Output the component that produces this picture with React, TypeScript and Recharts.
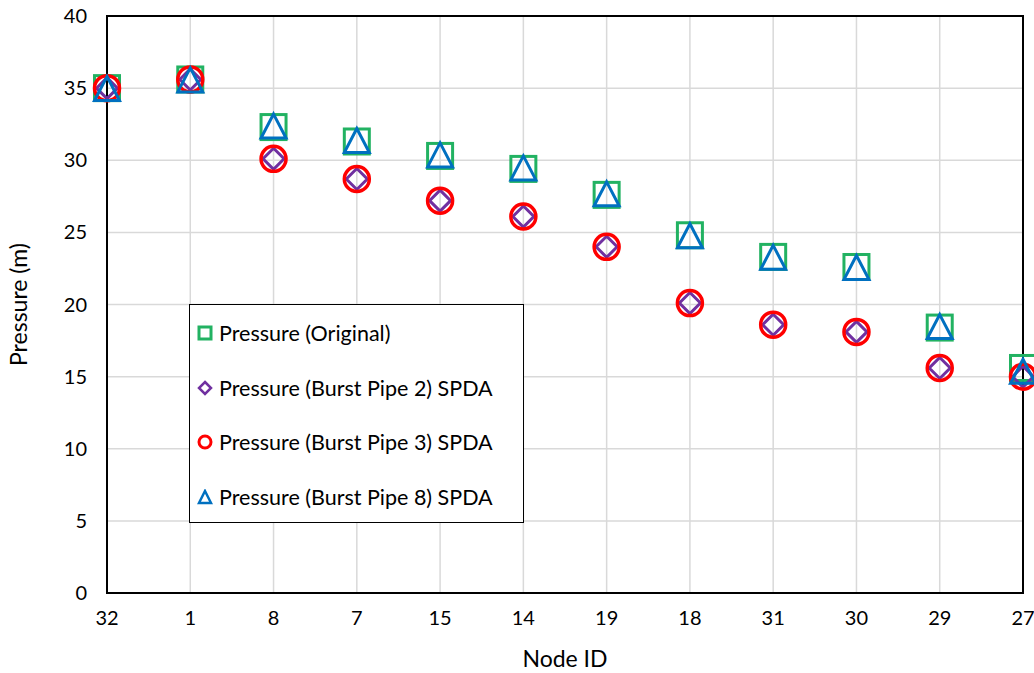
import React from "react";
import {
  ScatterChart,
  Scatter,
  XAxis,
  YAxis,
  CartesianGrid,
  ReferenceArea,
} from "recharts";

const nodeIds = ["32", "1", "8", "7", "15", "14", "19", "18", "31", "30", "29", "27"];
const original = [35.0, 35.6, 32.3, 31.3, 30.3, 29.4, 27.6, 24.8, 23.3, 22.6, 18.4, 15.6];
const burstPipe2 = [35.0, 35.6, 30.1, 28.7, 27.2, 26.1, 24.0, 20.1, 18.6, 18.1, 15.6, 15.0];
const burstPipe3 = [35.0, 35.6, 30.1, 28.7, 27.2, 26.1, 24.0, 20.1, 18.6, 18.1, 15.6, 15.0];
const burstPipe8 = [34.9, 35.5, 32.3, 31.3, 30.3, 29.4, 27.6, 24.7, 23.2, 22.5, 18.4, 15.3];
const yTicks = [0, 5, 10, 15, 20, 25, 30, 35, 40];

const toPoints = (vals: number[]) => vals.map((y, i) => ({ x: i, y }));

const FONT = "Lato, 'Liberation Sans', sans-serif";

const GREEN = "#22b262";
const PURPLE = "#7030a0";
const RED = "#ff0000";
const BLUE = "#0070c0";

const SquareShape = (p: any) => (
  <rect x={p.cx - 12.5} y={p.cy - 12.5} width={25} height={25} fill="none" stroke={GREEN} strokeWidth={3} />
);
const DiamondShape = (p: any) => (
  <path
    d={`M${p.cx},${p.cy - 10.5} L${p.cx + 10.5},${p.cy} L${p.cx},${p.cy + 10.5} L${p.cx - 10.5},${p.cy} Z`}
    fill="none"
    stroke={PURPLE}
    strokeWidth={3}
  />
);
const CircleShape = (p: any) => (
  <circle cx={p.cx} cy={p.cy} r={12.5} fill="none" stroke={RED} strokeWidth={3.5} />
);
const TriangleShape = (p: any) => (
  <path
    d={`M${p.cx},${p.cy - 13} L${p.cx + 12.5},${p.cy + 11} L${p.cx - 12.5},${p.cy + 11} Z`}
    fill="none"
    stroke={BLUE}
    strokeWidth={3}
  />
);

const legendItems = [
  { label: "Pressure (Original)", icon: <rect x={2} y={2} width={12} height={12} fill="none" stroke={GREEN} strokeWidth={3} /> },
  { label: "Pressure (Burst Pipe 2) SPDA", icon: <path d="M8,2 L14,8 L8,14 L2,8 Z" fill="none" stroke={PURPLE} strokeWidth={2.5} /> },
  { label: "Pressure (Burst Pipe 3) SPDA", icon: <circle cx={8} cy={8} r={6} fill="none" stroke={RED} strokeWidth={3} /> },
  { label: "Pressure (Burst Pipe 8) SPDA", icon: <path d="M8,2 L14,14 L2,14 Z" fill="none" stroke={BLUE} strokeWidth={2.5} /> },
];

function LegendBox() {
  return (
    <div
      style={{
        position: "absolute",
        left: 189,
        top: 304,
        width: 335,
        height: 219,
        border: "1.5px solid #000",
        background: "#fff",
        fontFamily: FONT,
        fontSize: 21.5,
        color: "#000",
        paddingTop: 1,
        boxSizing: "border-box",
      }}
    >
      {legendItems.map((it) => (
        <div key={it.label} style={{ display: "flex", alignItems: "center", height: 54.5, paddingLeft: 7 }}>
          <svg width={16} height={16} style={{ marginRight: 6 }}>
            {it.icon}
          </svg>
          <span>{it.label}</span>
        </div>
      ))}
    </div>
  );
}

export default function App() {
  const tickStyle = { fill: "#000", fontSize: 20, fontFamily: FONT };
  const titleStyle = { fill: "#000", fontSize: 23, fontFamily: FONT };
  return (
    <div style={{ position: "absolute", left: 0, top: 0, width: 1034, height: 673, background: "#fff" }}>
      <ScatterChart width={1034} height={673} margin={{ top: 16, right: 11, bottom: 0, left: 0 }}>
        <CartesianGrid stroke="#d9d9d9" strokeWidth={1.5} />
        <XAxis
          type="number"
          dataKey="x"
          domain={[0, 11]}
          ticks={nodeIds.map((_, i) => i)}
          tickFormatter={(v: number) => nodeIds[v]}
          tickLine={false}
          tickMargin={12}
          axisLine={{ stroke: "#000", strokeWidth: 2 }}
          tick={tickStyle}
          height={80}
          interval={0}
          label={{ value: "Node ID", position: "insideBottom", offset: 6, style: titleStyle }}
        />
        <YAxis
          type="number"
          dataKey="y"
          domain={[0, 40]}
          ticks={yTicks}
          tickLine={false}
          tickMargin={14}
          axisLine={{ stroke: "#000", strokeWidth: 2 }}
          tick={tickStyle}
          width={107}
          interval={0}
          label={{
            value: "Pressure (m)",
            angle: -90,
            position: "insideLeft",
            offset: 19,
            style: { ...titleStyle, textAnchor: "middle" },
          }}
        />
        <ReferenceArea x1={0} x2={11} y1={0} y2={40} fill="none" stroke="#000" strokeWidth={2} />
        <Scatter name="Pressure (Original)" data={toPoints(original)} shape={SquareShape} isAnimationActive={false} />
        <Scatter name="Pressure (Burst Pipe 2) SPDA" data={toPoints(burstPipe2)} shape={DiamondShape} isAnimationActive={false} />
        <Scatter name="Pressure (Burst Pipe 3) SPDA" data={toPoints(burstPipe3)} shape={CircleShape} isAnimationActive={false} />
        <Scatter name="Pressure (Burst Pipe 8) SPDA" data={toPoints(burstPipe8)} shape={TriangleShape} isAnimationActive={false} />
      </ScatterChart>
      <LegendBox />
    </div>
  );
}
